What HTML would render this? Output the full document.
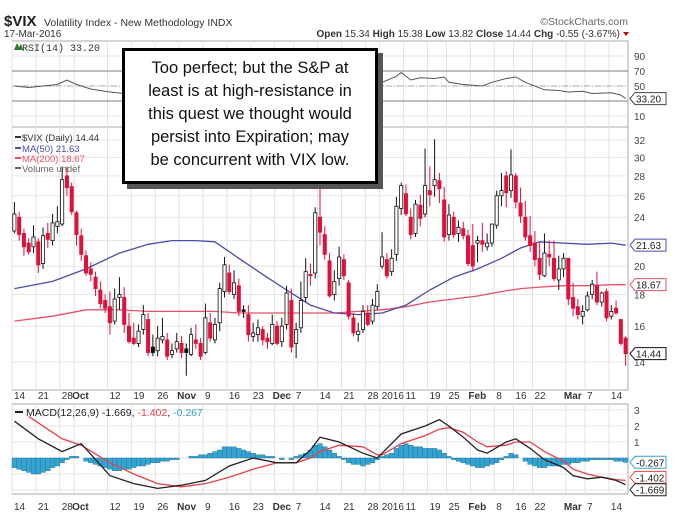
<!DOCTYPE html>
<html><head><meta charset="utf-8">
<style>
body{margin:0;background:#fff;width:673px;height:516px;overflow:hidden;font-family:"Liberation Sans",sans-serif;}
svg{position:absolute;left:0;top:0}
#callout{position:absolute;left:122px;top:48px;width:250px;height:124px;border:3px solid #000;background:#fff;box-shadow:5px 5px 0 #555;font-size:16.5px;line-height:23px;text-align:center;padding-top:6px;box-sizing:content-box;color:#111}
</style></head>
<body>
<svg id="chart" width="673" height="516"></svg>
<div id="callout">Too perfect; but the S&amp;P at<br>least is at high-resistance in<br>this quest we thought would<br>persist into Expiration; may<br>be concurrent with VIX low.</div>
<script>
const closes=[24.3,22.5,21.5,21.1,22.3,20.1,22.4,22.1,23.5,23.6,27.6,26.8,24.5,
22.5,20.9,19.5,19.4,18.4,17.4,17.1,16.2,17.7,18.0,16.1,15.1,15.0,15.7,16.7,14.5,14.5,15.3,15.4,14.3,14.6,15.1,
14.5,14.5,15.5,15.0,14.3,16.5,15.3,16.1,18.4,20.1,18.2,18.8,16.9,16.9,15.5,15.6,15.9,15.2,15.1,16.1,
15.0,16.0,18.1,14.8,15.8,17.6,19.6,19.3,24.4,22.7,20.9,17.9,18.9,20.7,19.3,16.6,15.6,15.7,16.9,16.1,17.3,18.2,
20.7,19.3,20.6,25.0,27.0,24.3,22.5,25.2,23.9,27.0,26.1,27.6,26.7,22.3,24.2,22.5,23.1,22.4,20.2,
20.0,22.0,21.7,21.8,23.4,26.0,26.5,26.3,28.1,25.4,24.1,22.3,21.6,20.5,19.4,21.0,20.7,19.1,19.8,20.6,
17.7,17.1,16.7,16.9,17.9,18.7,17.5,18.1,16.5,16.9,16.8,15.0,14.44];
const opens=[22.8,24.0,22.6,21.8,21.5,21.9,20.2,22.6,22.0,23.2,23.4,28.0,26.9,
24.4,22.4,20.8,19.8,19.2,18.3,17.6,17.2,16.3,17.8,17.8,16.0,15.3,15.0,15.8,16.4,14.8,14.6,15.2,15.2,14.4,14.7,
15.0,14.7,14.4,15.2,15.0,14.5,16.2,15.2,16.2,18.2,19.5,18.0,18.6,17.0,16.7,15.4,15.5,15.8,15.3,15.0,
16.0,15.1,16.1,17.6,15.0,15.9,17.8,19.4,19.5,24.0,22.5,20.4,18.0,19.1,20.5,18.8,16.5,15.5,15.8,16.8,16.3,17.2,
20.0,20.5,19.6,20.9,24.8,26.2,24.0,22.6,25.1,24.3,26.5,27.0,27.5,25.6,22.5,24.0,22.6,23.0,22.4,
21.6,21.8,22.0,21.5,21.8,23.3,26.0,28.0,26.5,28.0,25.3,24.0,22.4,21.8,20.6,19.3,20.9,20.6,19.0,19.8,
20.6,17.8,17.2,16.6,17.0,18.0,18.6,17.5,18.2,16.6,17.1,16.4,15.3];
const highs=[25.4,24.5,23.0,22.2,23.3,22.2,23.1,23.5,24.3,25.0,29.0,29.0,27.3,
24.6,23.0,21.2,20.3,19.6,18.9,18.0,18.2,18.4,19.2,18.5,16.8,16.2,16.1,17.3,16.8,15.5,16.0,16.5,15.6,15.0,15.6,
15.4,15.0,15.9,16.1,15.3,17.4,16.8,16.5,18.8,20.7,20.1,19.7,19.1,17.3,17.3,16.2,16.4,16.0,15.6,16.7,
16.3,16.5,18.6,18.4,16.2,18.9,20.6,20.2,24.9,26.8,23.2,21.0,19.7,21.5,20.9,19.0,16.8,16.2,17.3,17.3,17.7,18.7,
22.7,21.0,21.3,25.9,27.3,27.1,24.8,25.6,26.1,31.0,29.0,32.1,28.3,26.9,25.2,24.5,23.7,23.6,22.9,
23.4,22.4,23.5,22.6,23.4,26.5,28.3,28.5,30.9,28.3,26.8,25.5,24.1,22.8,21.9,22.6,22.0,22.0,20.8,21.0,
20.6,18.8,17.7,17.3,18.2,19.0,19.6,18.2,18.4,17.3,17.6,16.3,15.4];
const lows=[22.6,22.0,20.8,20.9,21.0,19.5,19.8,21.4,21.6,22.6,23.2,26.0,24.2,
21.6,20.4,19.3,18.9,17.9,17.1,16.8,15.5,16.1,17.0,15.6,15.0,14.9,14.8,15.5,14.3,14.3,14.3,15.0,14.1,14.2,14.5,
14.2,13.3,14.3,14.7,14.1,14.4,15.1,15.0,15.7,17.8,18.0,17.7,16.6,16.5,15.1,15.1,15.1,14.9,14.7,14.9,
14.9,14.8,15.8,14.5,14.2,15.6,17.5,18.6,19.1,21.6,20.5,17.8,17.6,18.6,19.0,16.4,15.4,15.1,15.6,16.0,16.1,17.0,
19.8,19.1,19.3,20.4,24.2,24.1,22.1,22.3,23.2,24.0,25.0,25.9,25.3,21.9,22.0,22.2,21.9,22.1,20.0,
19.6,20.3,21.1,21.2,21.5,23.0,25.0,24.9,25.8,24.8,23.5,22.0,21.1,20.0,19.0,19.2,20.0,18.9,18.3,19.2,
17.3,16.6,16.4,16.1,16.9,17.7,17.3,17.2,16.3,16.4,16.7,14.9,13.8];
const maDays=[0,8,15,22,28,33,38,42,47,52,57,62,67,72,77,82,87,92,97,102,106,110,115,120,125,128];
const ma50=[18.4,18.9,19.8,21.0,21.7,22.0,22.0,21.9,20.6,19.4,18.3,17.3,16.8,16.7,16.8,17.3,18.3,19.2,19.8,20.6,21.4,21.9,21.8,21.7,21.8,21.63];
const ma200=[16.3,16.6,17.0,17.0,16.9,16.9,16.9,16.9,16.8,16.8,16.8,16.8,16.8,16.9,17.0,17.2,17.5,17.7,17.9,18.2,18.4,18.5,18.6,18.6,18.67,18.67];
const rsiDays=[0,3,6,9,11,13,16,20,23,30,36,44,50,56,64,70,74,77,80,81,83,85,88,90,91,94,96,98,100,103,105,107,111,114,116,119,121,125,127,128];
const rsiVals=[50,48,50,52,58,52,46,42,40,38,41,53,47,44,62,48,44,55,63,68,58,61,60,62,55,52,51,50,55,60,62,55,45,44,42,43,40,41,38,33.2];
const macdDays=[0,5,10,14,20,25,30,35,40,45,50,55,59,62,64,68,73,76,77,81,86,89,91,94,97,99,103,105,108,111,115,117,120,123,126,128];
const macdVals=[2.3,1.2,0.4,0.9,-1.1,-1.6,-1.9,-1.7,-1.4,-0.5,0.0,-0.3,-0.3,0.5,1.3,1.0,0.3,0.0,0.3,1.5,2.0,2.4,2.0,1.3,0.5,0.3,1.0,1.2,0.6,-0.1,-0.6,-1.1,-1.3,-1.2,-1.4,-1.669];
const sigDays=[3,10,14,20,25,30,35,40,45,50,55,59,62,64,68,73,76,77,81,86,89,91,94,97,99,103,105,108,111,115,117,120,123,126,128];
const sigVals=[2.6,1.2,0.8,-0.3,-1.0,-1.6,-1.8,-1.6,-1.2,-0.7,-0.3,-0.3,0.0,0.4,0.8,0.7,0.2,0.2,0.9,1.4,1.8,1.9,1.6,1.0,0.7,0.8,1.0,1.0,0.4,-0.2,-0.7,-1.0,-1.2,-1.35,-1.402];
const hist=[-0.6,-0.7,-0.8,-0.9,-1.0,-1.0,-0.9,-0.8,-0.6,-0.5,-0.3,-0.1,0.1,
0.1,0.0,-0.2,-0.3,-0.4,-0.5,-0.6,-0.7,-0.8,-0.8,-0.7,-0.7,-0.6,-0.5,-0.5,-0.4,-0.3,-0.3,-0.2,-0.2,-0.1,-0.1,
0.0,0.0,0.1,0.1,0.2,0.2,0.3,0.4,0.5,0.7,0.7,0.7,0.6,0.5,0.4,0.3,0.2,0.2,0.1,0.1,
0.0,-0.1,0.0,-0.1,0.1,0.2,0.3,0.5,0.8,0.9,0.7,0.5,0.3,0.1,-0.1,-0.3,-0.4,-0.4,-0.5,-0.4,-0.3,-0.1,
0.1,0.2,0.3,0.6,0.8,0.9,0.8,0.7,0.7,0.6,0.6,0.6,0.5,0.3,0.1,-0.1,-0.2,-0.3,-0.4,
-0.5,-0.6,-0.6,-0.5,-0.4,-0.3,-0.1,0.1,0.3,0.2,0.0,-0.2,-0.4,-0.5,-0.6,-0.6,-0.5,-0.5,-0.5,-0.4,
-0.4,-0.3,-0.3,-0.2,-0.2,-0.1,-0.1,-0.1,-0.1,-0.1,-0.2,-0.2,-0.267];
const tickIdx=[0,5,10,13,20,25,30,35,40,45,50,55,59,64,69,74,77,82,87,91,96,101,105,109,116,120,125];
const tickLbl=["14","21","28","Oct","12","19","26","Nov","9","16","23","Dec","7","14","21","28","2016","11","19","25","Feb","8","16","22","Mar","7","14"];
const priceTicks=[14,16,18,20,22,24,26,28,30,32];
const rsiTicks=[10,30,50,70,90];
const macdTicks=[-2,-1,0,1,2,3];

const NS="http://www.w3.org/2000/svg";
const svg=document.getElementById('chart');
function el(t,a,txt){const e=document.createElementNS(NS,t);for(const k in a)e.setAttribute(k,a[k]);if(txt!==undefined)e.textContent=txt;svg.appendChild(e);return e;}
const X0=12,X1=628,N=129,step=(X1-X0)/N;
const x=i=>X0+(i+0.5)*step;
const gx=i=>X0+i*step;
const py=v=>140+(Math.log(32)-Math.log(v))*268.5;
const ry=v=>86-(v-50)*0.75;
const my=v=>458-v*16;
const P={rsi:[41,127],main:[127,390],macd:[404,494]};

let t;
t=el('text',{x:4,y:26,'font-size':15,'font-weight':'bold',fill:'#222'},'$VIX');
t=el('text',{x:44,y:26,'font-size':10.5,fill:'#333'},'Volatility Index - New Methodology  INDX');
t=el('text',{x:4,y:37,'font-size':10,fill:'#333'},'17-Mar-2016');
t=el('text',{x:628,y:25,'font-size':10.5,fill:'#666','text-anchor':'end'},'©StockCharts.com');
t=el('text',{x:620,y:37,'font-size':10,fill:'#333','text-anchor':'end'});
t.innerHTML='<tspan font-weight="bold">Open</tspan> 15.34 <tspan font-weight="bold">High</tspan> 15.38 <tspan font-weight="bold">Low</tspan> 13.82 <tspan font-weight="bold">Close</tspan> 14.44 <tspan font-weight="bold">Chg</tspan> -0.55 (-3.67%)';
el('path',{d:'M623,32 l6,0 l-3,4z',fill:'#c00'});

for(const k in P){const [a,b]=P[k];const r=el('rect',{x:X0,y:a,width:X1-X0,height:b-a,fill:'#fff',stroke:'#aaa'});}
tickIdx.forEach(i=>{for(const k in P){const [a,b]=P[k];el('line',{x1:gx(i),x2:gx(i),y1:a,y2:b,stroke:'#e2e2e2'});}});
priceTicks.forEach(v=>{el('line',{x1:X0,x2:X1,y1:py(v),y2:py(v),stroke:'#e6e6e6'});
 if(v!==22){const l=el('text',{x:X1+6,y:py(v)+4,'font-size':10,fill:'#444'},v);}});
rsiTicks.forEach(v=>{const isRef=(v===30||v===70);el('line',{x1:X0,x2:X1,y1:ry(v),y2:ry(v),stroke:isRef?'#999':'#e6e6e6','stroke-width':isRef?1.3:1});
 if(v!==30){const l=el('text',{x:X1+6,y:ry(v)+4,'font-size':10,fill:'#444'},v);}});
el('line',{x1:X0,x2:X1,y1:ry(50),y2:ry(50),stroke:'#aaa','stroke-dasharray':'6,2,1,2'});
macdTicks.forEach(v=>{el('line',{x1:X0,x2:X1,y1:my(v),y2:my(v),stroke:'#e6e6e6'});
 if(v!==0){const l=el('text',{x:X1+6,y:my(v)+4,'font-size':10,fill:'#444'},v);}});

[399,510].forEach(yy=>{tickIdx.forEach((i,j)=>{const m=isNaN(+tickLbl[j]);const l=el('text',{x:gx(i)+(m?-2:2),y:yy,'font-size':10,'font-weight':m?'bold':'normal',fill:'#333'},tickLbl[j]);});});

let d='';rsiDays.forEach((i,j)=>{d+=(j?'L':'M')+x(i).toFixed(1)+','+ry(rsiVals[j]).toFixed(1);});
t=el('path',{d,fill:'none',stroke:'#555','stroke-width':1});
t=el('text',{x:22,y:51,'font-size':10,fill:'#333','font-family':'Liberation Mono'},'RSI(14) 33.20');
el('path',{d:'M14,50 l3,-7 l2,4 l2,-3 l2,6z',fill:'#2a7a2a'});
function tag(xx,yy,txt,col){el('path',{d:`M${xx},${yy} l5,-6 h31 v12 h-31z`,fill:'#fff',stroke:col});const l=el('text',{x:xx+6,y:yy+4,'font-size':10,fill:'#222'},txt);}
tag(X1+2,ry(rsiVals[rsiVals.length-1]),'33.20','#444');

function line(days,vals,f,col,name){let d='';days.forEach((i,j)=>{d+=(j?'L':'M')+x(i).toFixed(1)+','+f(vals[j]).toFixed(1);});const p=el('path',{d,fill:'none',stroke:col,'stroke-width':1.3});}
line(maDays,ma200,py,'#e8506a','ma200-line');
line(maDays,ma50,py,'#4b4bb0','ma50-line');

const bw=3.2;
closes.forEach((c,i)=>{const o=opens[i];const prev=i?closes[i-1]:o;const col=c<prev?'#e0103a':'#111';
 const w=el('line',{x1:x(i),x2:x(i),y1:py(highs[i]),y2:py(lows[i]),stroke:col,'stroke-width':1});
 const top=py(Math.max(o,c)),bot=py(Math.min(o,c));
 const r=el('rect',{x:x(i)-bw/2,y:top,width:bw,height:Math.max(1,bot-top),fill:c>o?'#fff':col,stroke:col,'stroke-width':0.8});});
tag(X1+2,py(21.63),'21.63','#4b4bb0');
tag(X1+2,py(18.67),'18.67','#e8506a');
tag(X1+2,py(closes[closes.length-1]),'14.44','#111');

[['$VIX (Daily) 14.44','#333',137],['MA(50) 21.63','#4b4bb0',148],['MA(200) 18.67','#e8506a',158],['Volume undef','#666',168]].forEach((a,j)=>{
 const l=el('text',{x:22,y:a[2]+4,'font-size':9.5,fill:a[1]},a[0]);
 el('line',{x1:15,x2:21,y1:a[2],y2:a[2],stroke:a[1],'stroke-width':2});});

hist.forEach((h,i)=>{const y0=my(0),y1=my(h);const r=el('rect',{x:gx(i),y:Math.min(y0,y1),width:step,height:Math.abs(y1-y0),fill:'#35a3d0',stroke:'#1f6f99','stroke-width':0.4});});
line(sigDays,sigVals,my,'#e8404a','macd-signal-line');
line(macdDays,macdVals,my,'#222','macd-line');
t=el('text',{x:26,y:416,'font-size':10.5,fill:'#222'});
t.innerHTML='MACD(12,26,9) -1.669, <tspan fill="#e8404a">-1.402</tspan>, <tspan fill="#35a3d0">-0.267</tspan>';
el('line',{x1:15,x2:23,y1:412,y2:412,stroke:'#222','stroke-width':2});
tag(X1+2,my(-0.267),'-0.267','#35a3d0');
tag(X1+2,my(-1.402)-3,'-1.402','#e8404a');
tag(X1+2,my(-1.669)+5,'-1.669','#222');
</script>
</body></html>
